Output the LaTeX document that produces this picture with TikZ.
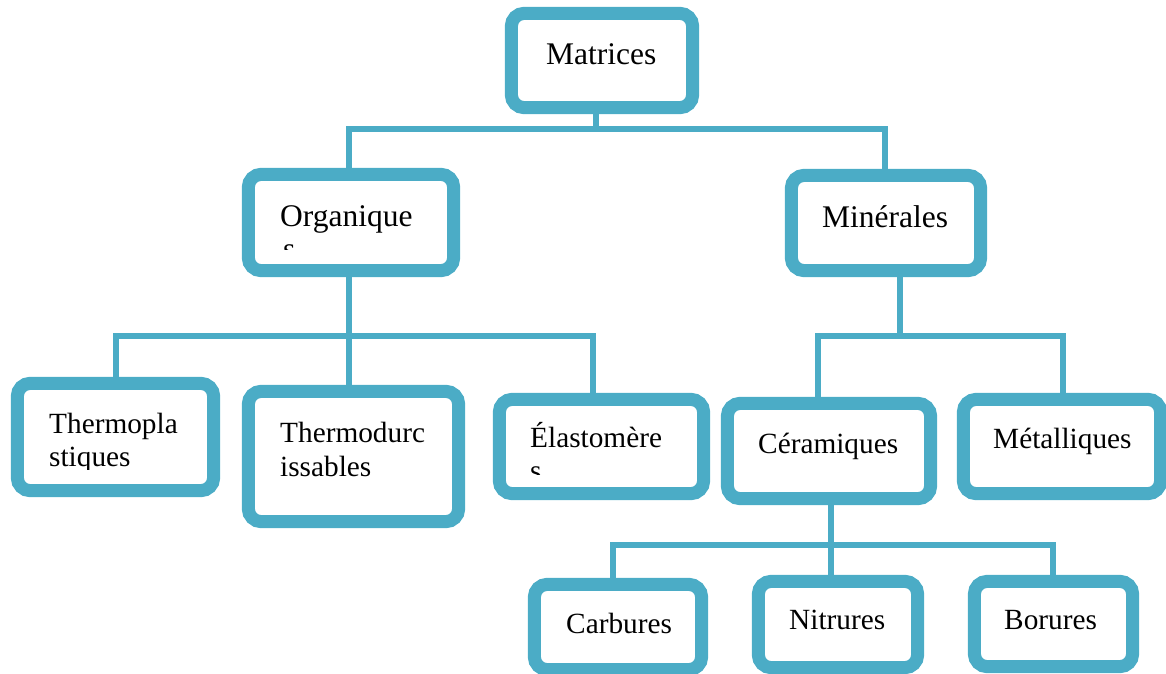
\documentclass[tikz,border=0pt]{standalone}
\usepackage{fontspec}
\setmainfont{Liberation Serif}
\definecolor{boxblue}{RGB}{75,172,198}
\tikzset{
  box/.style={rectangle, draw=boxblue, line width=13pt, rounded corners=13pt,
              fill=white, inner sep=0pt},
  link/.style={draw=boxblue, line width=6pt, line join=miter},
  big/.style={font=\fontsize{31.5}{33}\selectfont, inner sep=0pt, anchor=base west},
  small/.style={font=\fontsize{29.3}{33}\selectfont, inner sep=0pt, anchor=base west},
}
\begin{document}
\begin{tikzpicture}[x=1pt, y=-1pt]
\useasboundingbox (0,0) rectangle (1166,673);

% ---- boxes (positions only; drawn after the connectors) ----
\path
  node[minimum width=181pt, minimum height=94pt, inner sep=0pt]  (mat) at (602,60.5)   {}
  node[minimum width=205pt, minimum height=96pt, inner sep=0pt]  (org) at (351,222.5)  {}
  node[minimum width=189pt, minimum height=95pt, inner sep=0pt]  (min) at (886,223)    {}
  node[minimum width=196pt, minimum height=107pt, inner sep=0pt] (thp) at (115.5,437)  {}
  node[minimum width=210pt, minimum height=130pt, inner sep=0pt] (thd) at (353.5,456.5){}
  node[minimum width=204pt, minimum height=94pt, inner sep=0pt]  (ela) at (601.5,446.5){}
  node[minimum width=203pt, minimum height=95pt, inner sep=0pt]  (cer) at (829,451)    {}
  node[minimum width=197pt, minimum height=94pt, inner sep=0pt]  (met) at (1062,446.5) {}
  node[minimum width=167pt, minimum height=85pt, inner sep=0pt]  (car) at (618,627)    {}
  node[minimum width=159pt, minimum height=86pt, inner sep=0pt]  (nit) at (838,624.5)  {}
  node[minimum width=158pt, minimum height=85pt, inner sep=0pt]  (bor) at (1053.5,624) {};

% ---- junction points of the tree ----
\coordinate (j0)  at (595.5,129);
\coordinate (b1l) at (349,129);
\coordinate (b1r) at (885,129);
\coordinate (b2l) at (115.5,336);
\coordinate (b2m) at (349,336);
\coordinate (b2r) at (593,336);
\coordinate (b3l) at (817.5,336);
\coordinate (b3m) at (900,336);
\coordinate (b3r) at (1063,336);
\coordinate (b4l) at (613,544.5);
\coordinate (b4m) at (831,544.5);
\coordinate (b4r) at (1053,544.5);

% ---- connectors ----
\draw[link] (j0 |- mat.south) -- (j0);
\draw[link] (b1l |- org.north) -- (b1l) -- (b1r) -- (b1r |- min.north);

\draw[link] (b2m |- org.south) -- (b2m |- thd.north);
\draw[link] (b2l |- thp.north) -- (b2l) -- (b2r) -- (b2r |- ela.north);

\draw[link] (b3m |- min.south) -- (b3m);
\draw[link] (b3l |- cer.north) -- (b3l) -- (b3r) -- (b3r |- met.north);

\draw[link] (b4m |- cer.south) -- (b4m |- nit.north);
\draw[link] (b4l |- car.north) -- (b4l) -- (b4r) -- (b4r |- bor.north);

% ---- rounded frames on top of the connectors ----
\foreach \n in {mat,org,min,thp,thd,ela,cer,met,car,nit,bor}{
  \path[box] (\n.north west) rectangle (\n.south east);
}

% ---- labels ----
\node[big]   (tmat) at (546,64)   {Matrices};
\node[big]   (torg) at (280,226)  {Organique};
\begin{scope}
  \clip (270,235) rectangle (450,249);
  \node[big] (torgs) at (283,259) {s};
\end{scope}
\node[big]   (tmin) at (822,227)  {Minérales};

\node[small] (tthp) at (49,433)   {Thermopla};
\begin{scope}
  \clip (40,440) rectangle (210,469);
  \node[small] (tthp2) at (49,466) {stiques};
\end{scope}
\node[small] (tthd)  at (280,442) {Thermodurc};
\node[small] (tthd2) at (280,476) {issables};
\node[small] (tela)  at (530,447) {Élastomère};
\begin{scope}
  \clip (520,455) rectangle (700,474);
  \node[small] (telas) at (530,480) {s};
\end{scope}
\node[small] (tcer) at (758,453)  {Céramiques};
\node[small] (tmet) at (993,448)  {Métalliques};
\node[small] (tcar) at (566,633)  {Carbures};
\node[small] (tnit) at (789,629)  {Nitrures};
\node[small] (tbor) at (1004,629) {Borures};
\end{tikzpicture}
\end{document}
